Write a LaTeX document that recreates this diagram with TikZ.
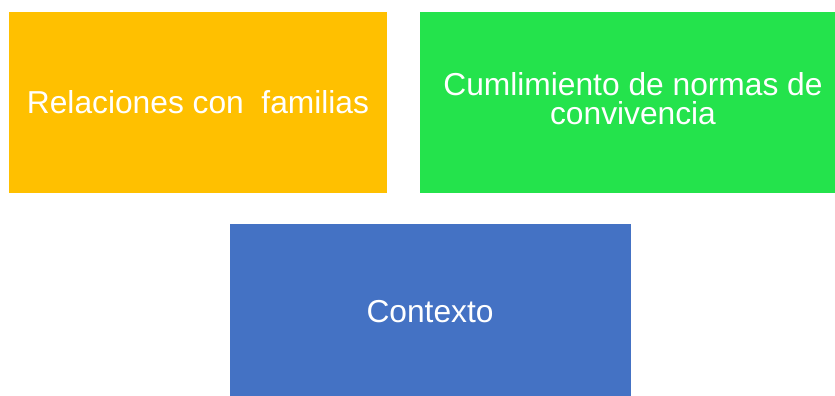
\documentclass[tikz,border=0pt]{standalone}
\usepackage{fontspec}
\setmainfont{Liberation Sans}
\definecolor{boxorange}{HTML}{FFC000}
\definecolor{boxgreen}{HTML}{24E34C}
\definecolor{boxblue}{HTML}{4472C4}
\begin{document}
\begin{tikzpicture}[x=0.75pt, y=-0.75pt, font=\fontsize{23.8}{22.2}\selectfont]
\tikzstyle{every node} = [rectangle, draw=none, text=white, align=center, inner sep=0pt]
\useasboundingbox (0,0) rectangle (835,396);
\node (rel) at (198,102.5) [fill=boxorange, minimum width=283.5pt, minimum height=135.75pt] {Relaciones con \ familias};
\node (cum) at (633,102.5) [fill=boxgreen, minimum width=319.5pt, minimum height=135.75pt] {Cumlimiento de normas de\\convivencia\\[-16pt]};
\node (ctx) at (430,312) [fill=boxblue, minimum width=300.75pt, minimum height=132pt] {Contexto};
\end{tikzpicture}
\end{document}
